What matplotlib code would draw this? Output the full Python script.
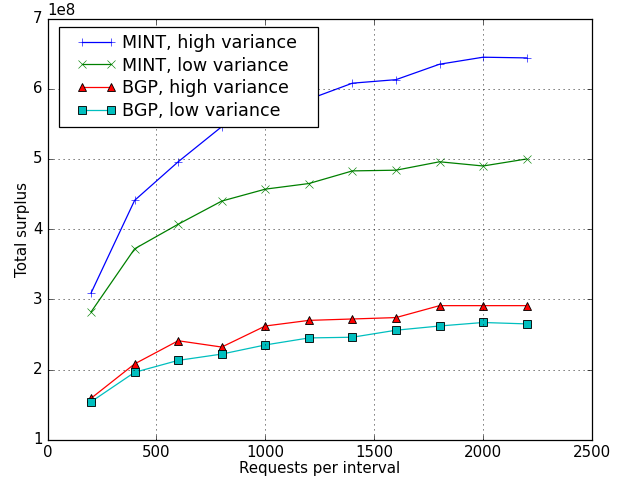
import matplotlib
matplotlib.use('Agg')
import matplotlib.pyplot as plt
from matplotlib.legend_handler import HandlerLine2D
import numpy as np

plt.style.use('classic')

requests = [200, 400, 600, 800, 1000, 1200, 1400, 1600, 1800, 2000, 2200]

mint_high = [3.09, 4.41, 4.96, 5.46, 5.70, 5.85, 6.08, 6.13, 6.35, 6.45, 6.44]
mint_low = [2.82, 3.72, 4.07, 4.40, 4.57, 4.65, 4.83, 4.84, 4.96, 4.90, 5.00]
bgp_high = [1.59, 2.08, 2.41, 2.32, 2.62, 2.70, 2.72, 2.74, 2.91, 2.91, 2.91]
bgp_low = [1.54, 1.96, 2.13, 2.22, 2.35, 2.45, 2.46, 2.56, 2.62, 2.67, 2.65]

dpi = 90
fig = plt.figure(figsize=(632 / dpi, 480 / dpi), dpi=dpi, facecolor='white')
ax = fig.add_axes([47.5 / 632, 40.3 / 480, 544.5 / 632, 421.1 / 480])

e8 = 1e8
ax.plot(requests, np.array(mint_high) * e8, 'b-+', label='MINT, high variance')
ax.plot(requests, np.array(mint_low) * e8, 'g-x', label='MINT, low variance')
ax.plot(requests, np.array(bgp_high) * e8, 'r-^', mec='k', mew=0.7, label='BGP, high variance')
ax.plot(requests, np.array(bgp_low) * e8, 'c-s', mec='k', mew=0.7, label='BGP, low variance')

ax.set_xlim(0, 2500)
ax.set_ylim(1e8, 7e8)
ax.set_xlabel('Requests per interval', labelpad=1)
ax.set_ylabel('Total surplus', labelpad=2)
ax.grid(True)

# old-style legend: wide horizontal padding, tight rows
ax.legend(loc='upper left', numpoints=2, fontsize=14,
          bbox_to_anchor=(0.0211, 0.5, 0.4757, 0.4808), mode='expand',
          borderaxespad=0, borderpad=0.4, labelspacing=0.28,
          handlelength=2.9, handletextpad=0.32,
          handler_map={matplotlib.lines.Line2D: HandlerLine2D(xpad=0.6)})

fig.savefig('out.png', dpi=dpi, facecolor='white')
